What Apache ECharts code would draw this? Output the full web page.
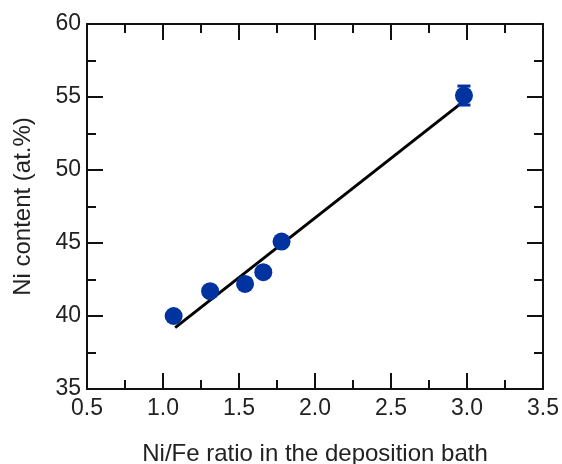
<!DOCTYPE html>
<html>
<head>
<meta charset="utf-8">
<script src="https://cdn.jsdelivr.net/npm/echarts@6/dist/echarts.min.js"></script>
<style>
  html, body { margin: 0; padding: 0; background: #fff; }
  #chart-container { width: 562px; height: 464px; }
</style>
</head>
<body>
<div id="chart-container"></div>
<script>
// measured points (Ni/Fe ratio in bath, Ni at.%)
var ratio = [1.07, 1.31, 1.54, 1.66, 1.78, 2.98];
var niContent = [40.0, 41.7, 42.2, 43.0, 45.1, 55.1];
var niError = [0, 0, 0, 0, 0, 0.65];

// linear fit end points
var fitX = [1.08, 2.99];
var fitY = [39.2, 54.8];

var dom = document.getElementById("chart-container");
var myChart = echarts.init(dom, null, { renderer: "canvas" });

var fontFamily = "Liberation Sans, Arial, sans-serif";
var axisLine = { show: true, lineStyle: { color: "#111", width: 2 } };
var majorTick = { show: true, inside: true, length: 16, lineStyle: { color: "#111", width: 2 } };
var minorTick = { show: true, splitNumber: 2, length: 9, lineStyle: { color: "#111", width: 2 } };

var points = ratio.map(function (x, i) { return [x, niContent[i]]; });
var errs = ratio.map(function (x, i) { return [x, niContent[i] - niError[i], niContent[i] + niError[i]]; })
  .filter(function (d) { return d[2] > d[1]; });
var fit = fitX.map(function (x, i) { return [x, fitY[i]]; });

var option = {
  animation: false,
  grid: { left: 87, right: 19, top: 24, bottom: 75, outerBoundsMode: "none", containLabel: false },
  xAxis: [
    {
      type: "value", min: 0.5, max: 3.5, interval: 0.5, position: "bottom",
      name: "Ni/Fe ratio in the deposition bath", nameLocation: "middle", nameGap: 53,
      nameTextStyle: { fontSize: 24, color: "#222", fontFamily: fontFamily },
      axisLine: axisLine, axisTick: majorTick, minorTick: minorTick, splitLine: { show: false },
      axisLabel: { fontSize: 23, color: "#222", fontFamily: fontFamily, margin: 8,
        formatter: function (v) { return v.toFixed(1); } }
    },
    {
      type: "value", min: 0.5, max: 3.5, interval: 0.5, position: "top",
      axisLine: axisLine, axisTick: majorTick, minorTick: minorTick, splitLine: { show: false },
      axisLabel: { show: false }
    }
  ],
  yAxis: [
    {
      type: "value", min: 35, max: 60, interval: 5, position: "left",
      name: "Ni content (at.%)", nameLocation: "middle", nameGap: 52,
      nameTextStyle: { fontSize: 24, color: "#222", fontFamily: fontFamily },
      axisLine: axisLine, axisTick: majorTick, minorTick: minorTick, splitLine: { show: false },
      axisLabel: { fontSize: 23, color: "#222", fontFamily: fontFamily, margin: 6 }
    },
    {
      type: "value", min: 35, max: 60, interval: 5, position: "right",
      axisLine: axisLine, axisTick: majorTick, minorTick: minorTick, splitLine: { show: false },
      axisLabel: { show: false }
    }
  ],
  series: [
    {
      name: "fit", type: "line", data: fit, symbol: "none",
      lineStyle: { color: "#000", width: 3 }, z: 2
    },
    {
      name: "error", type: "custom", data: errs, z: 3,
      renderItem: function (params, api) {
        var x = api.value(0);
        var lo = api.coord([x, api.value(1)]);
        var hi = api.coord([x, api.value(2)]);
        var hw = 6.5;
        var style = { stroke: "#0033a0", lineWidth: 3 };
        return {
          type: "group",
          children: [
            { type: "line", shape: { x1: lo[0], y1: lo[1], x2: hi[0], y2: hi[1] }, style: style },
            { type: "line", shape: { x1: lo[0] - hw, y1: lo[1], x2: lo[0] + hw, y2: lo[1] }, style: style },
            { type: "line", shape: { x1: hi[0] - hw, y1: hi[1], x2: hi[0] + hw, y2: hi[1] }, style: style }
          ]
        };
      }
    },
    {
      name: "data", type: "scatter", data: points, symbol: "circle", symbolSize: 18,
      itemStyle: { color: "#0033a0", opacity: 1 }, z: 4
    }
  ]
};

myChart.setOption(option);
window.addEventListener("resize", myChart.resize);
</script>
</body>
</html>
